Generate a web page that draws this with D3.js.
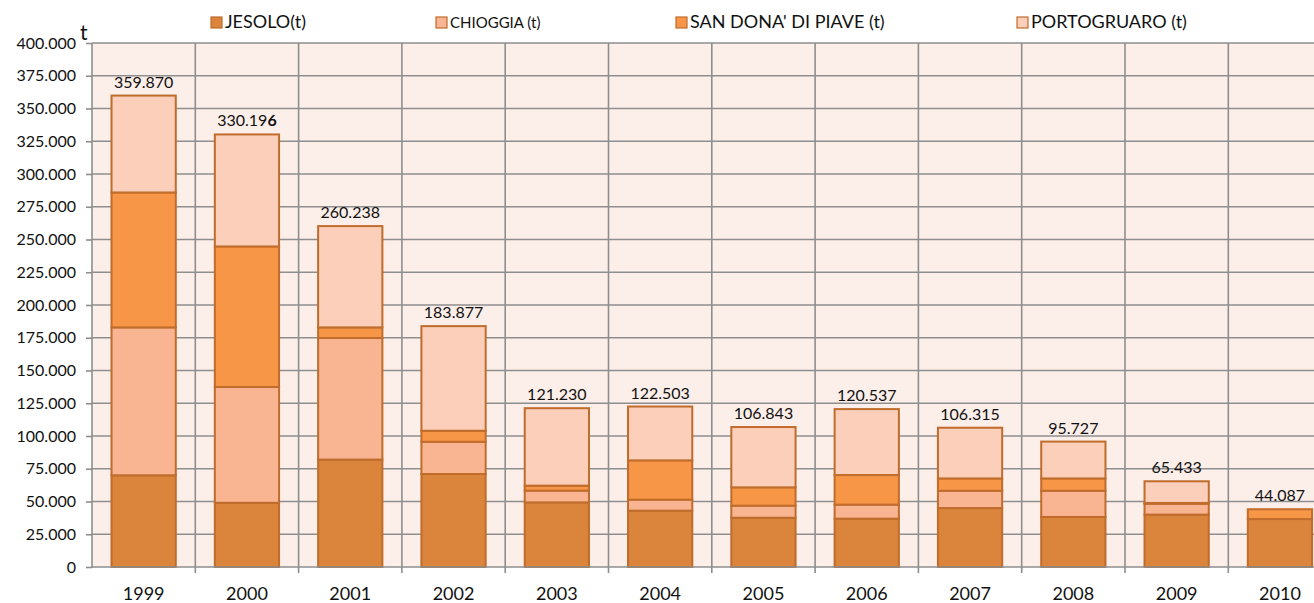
<!DOCTYPE html>
<html>
<head>
<meta charset="utf-8">
<script src="https://cdn.jsdelivr.net/npm/d3@7"></script>
<style>
  body { margin: 0; background: #fff; }
  svg text { font-family: Lato, "Open Sans", sans-serif; fill: #111; }
</style>
</head>
<body>
<div id="chart"></div>
<script>
// data (tonnes)
const years = ['1999', '2000', '2001', '2002', '2003', '2004', '2005', '2006', '2007', '2008', '2009', '2010'];
const jesolo = [70000, 49000, 82000, 71000, 49300, 43000, 37600, 36900, 45000, 38200, 40000, 36600];
const chioggia = [112900, 88400, 92800, 24600, 9000, 8400, 9200, 10700, 13200, 20000, 8300, 0];
const sanDona = [103000, 107300, 8100, 8400, 3800, 30000, 14000, 22600, 9400, 9400, 600, 7487];
const totals = [359870, 330196, 260238, 183877, 121230, 122503, 106843, 120537, 106315, 95727, 65433, 44087];
// portogruaro is whatever is left up to the printed total
const portogruaro = totals.map((t, i) => t - jesolo[i] - chioggia[i] - sanDona[i]);
const yTicks = d3.range(0, 400001, 25000);

const seriesNames = ['JESOLO(t)', 'CHIOGGIA (t)', "SAN DONA' DI PIAVE (t)", 'PORTOGRUARO (t)'];
const seriesColors = ['#DA843C', '#F9B491', '#F79646', '#FBCFBA'];

const W = 1314, H = 603;
const margin = { top: 43, left: 92, bottom: 36 };
const plotRight = 92 + 12 * 103.3;
const plotBottom = H - margin.bottom;

const svg = d3.select('#chart').append('svg').attr('width', W).attr('height', H);

const x = d3.scaleBand().domain(years).range([margin.left, plotRight]).paddingInner(0.378).paddingOuter(0.189);
const y = d3.scaleLinear().domain([0, 400000]).range([plotBottom, margin.top]);

// plot background
svg.append('rect')
	.attr('x', margin.left).attr('y', margin.top)
	.attr('width', plotRight - margin.left).attr('height', plotBottom - margin.top)
	.attr('fill', '#FCEEE9');

const step = x.step();
const bounds = years.map((d, i) => margin.left + i * step).concat([plotRight]);

// grid
svg.append('g').selectAll('line').data(yTicks.slice(1)).join('line')
	.attr('x1', margin.left).attr('x2', plotRight)
	.attr('y1', d => y(d)).attr('y2', d => y(d))
	.attr('stroke', '#8E8E8E').attr('stroke-width', 1.6);
svg.append('g').selectAll('line').data(bounds.slice(1)).join('line')
	.attr('x1', d => d).attr('x2', d => d)
	.attr('y1', margin.top).attr('y2', plotBottom + 6)
	.attr('stroke', '#8E8E8E').attr('stroke-width', 1.6);

// stacked bars
const rows = years.map((yr, i) => ({ year: yr, s0: jesolo[i], s1: chioggia[i], s2: sanDona[i], s3: portogruaro[i] }));
const stack = d3.stack().keys(['s0', 's1', 's2', 's3'])(rows);

svg.append('g').selectAll('g').data(stack).join('g')
	.attr('fill', (d, i) => seriesColors[i])
	.selectAll('rect').data(d => d.filter(p => p[1] - p[0] > 0)).join('rect')
	.attr('x', d => x(d.data.year))
	.attr('width', x.bandwidth())
	.attr('y', d => y(d[1]))
	.attr('height', d => y(d[0]) - y(d[1]))
	.attr('stroke', '#BF6C2C').attr('stroke-width', 2);

// thousands with a dot, as in the original
const fmt = v => d3.format(',')(v).replace(/,/g, '.');

// y axis
const yAxis = svg.append('g')
	.attr('transform', 'translate(' + margin.left + ',0)')
	.call(d3.axisLeft(y).tickValues(yTicks).tickSize(6).tickPadding(10)
		.tickFormat(d => d === 0 ? '0' : fmt(d)));
yAxis.selectAll('text').style('font-size', '16px');
yAxis.selectAll('line, path').attr('stroke', '#8E8E8E').attr('stroke-width', 1.6);
yAxis.select('.domain').attr('d', 'M0,' + (plotBottom + 1) + 'V' + margin.top);

// x axis
svg.append('line')
	.attr('x1', margin.left).attr('x2', plotRight)
	.attr('y1', plotBottom).attr('y2', plotBottom)
	.attr('stroke', '#8E8E8E').attr('stroke-width', 1.6);
svg.append('g').selectAll('text').data(years).join('text')
	.attr('x', d => x(d) + x.bandwidth() / 2)
	.attr('y', plotBottom + 33)
	.attr('text-anchor', 'middle')
	.style('font-size', '18px')
	.text(d => d);

// totals over the bars
svg.append('g').selectAll('text').data(years).join('text')
	.attr('x', d => x(d) + x.bandwidth() / 2)
	.attr('y', (d, i) => y(totals[i]) - 8)
	.attr('text-anchor', 'middle')
	.style('font-size', '16px')
	.each(function(d, i) {
		const s = fmt(totals[i]);
		const el = d3.select(this);
		if (d === '2000') {
			el.append('tspan').text(s.slice(0, -1));
			el.append('tspan').attr('font-weight', 'bold').text(s.slice(-1));
		} else {
			el.text(s);
		}
	});

// unit label
svg.append('text').attr('x', 80).attr('y', 40).style('font-size', '21px').text('t');

// legend
const legendX = [211, 436, 676, 1017];
const legendFont = ['18px', '15px', '18px', '18px'];
const legend = svg.append('g').selectAll('g').data(seriesNames).join('g')
	.attr('transform', (d, i) => 'translate(' + legendX[i] + ',17)');
legend.append('rect')
	.attr('width', 11).attr('height', 11)
	.attr('fill', (d, i) => seriesColors[i])
	.attr('stroke', '#BF6C2C').attr('stroke-width', 1.2);
legend.append('text')
	.attr('x', 14).attr('y', 11)
	.style('font-size', (d, i) => legendFont[i])
	.text(d => d);
</script>
</body>
</html>
